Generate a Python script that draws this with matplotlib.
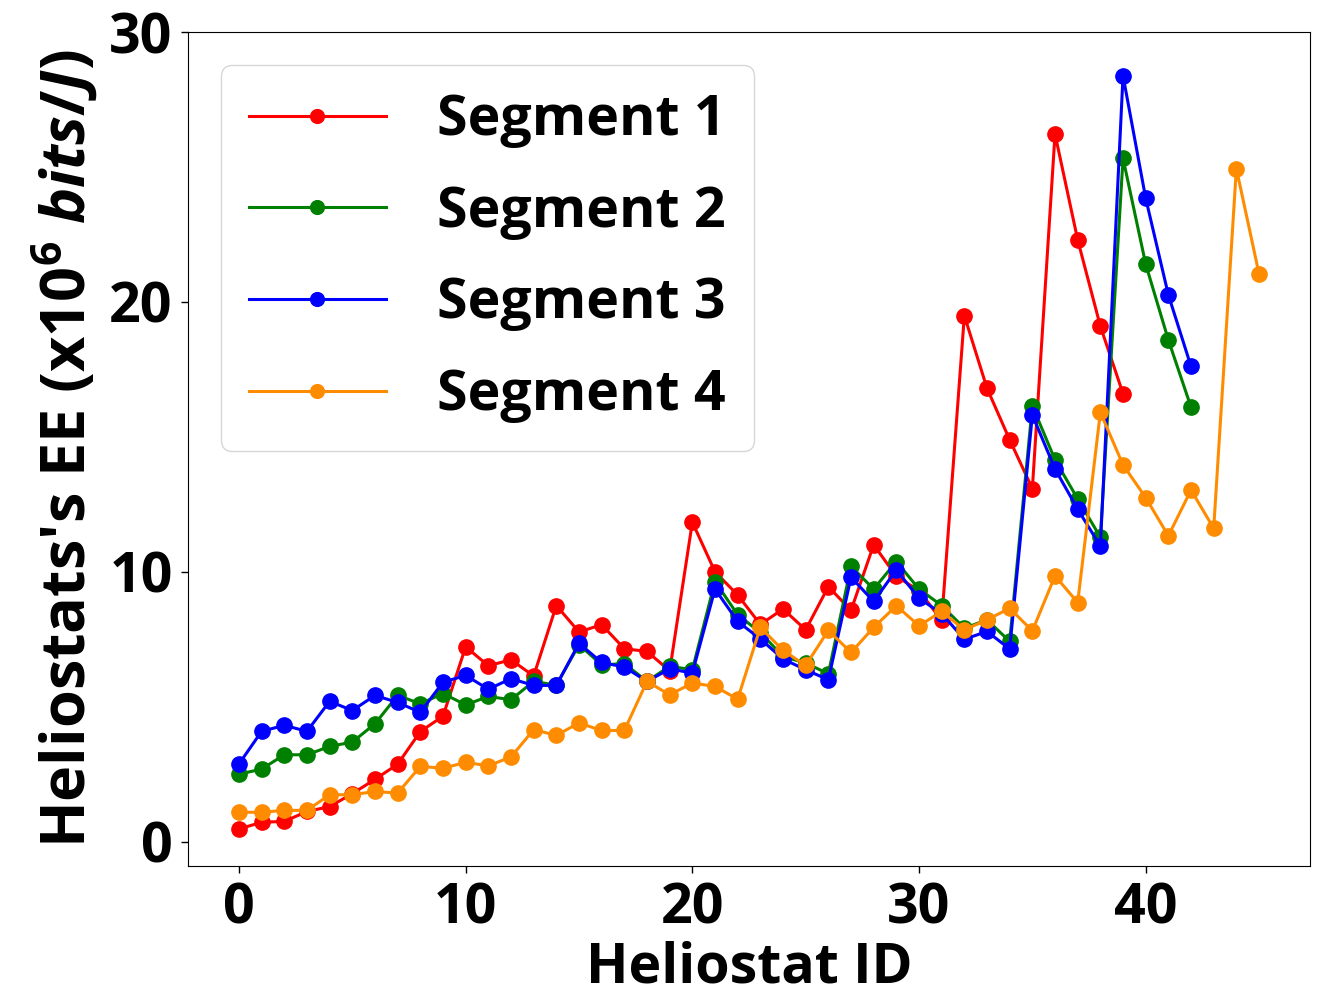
import matplotlib
matplotlib.use("Agg")
import matplotlib.pyplot as plt

# ---- data ----
seg1 = [0.47, 0.72, 0.75, 1.12, 1.30, 1.78, 2.31, 2.87, 4.08, 4.65,
        7.22, 6.52, 6.74, 6.14, 8.75, 7.77, 8.04, 7.15, 7.05, 6.33,
        11.84, 10.0, 9.14, 8.05, 8.62, 7.85, 9.45, 8.57, 11.0, 9.83,
        9.3, 8.2, 19.49, 16.8, 14.89, 13.08, 26.22, 22.3, 19.1, 16.6]
seg2 = [2.5, 2.69, 3.22, 3.22, 3.53, 3.69, 4.37, 5.42, 5.11, 5.49,
        5.07, 5.38, 5.26, 5.94, 5.8, 7.3, 6.55, 6.6, 5.94, 6.5,
        6.37, 9.64, 8.41, 7.75, 6.86, 6.62, 6.22, 10.2, 9.36, 10.38,
        9.36, 8.75, 7.91, 8.22, 7.42, 16.15, 14.15, 12.7, 11.28, 25.32,
        21.4, 18.59, 16.1]
seg3 = [2.88, 4.09, 4.31, 4.09, 5.2, 4.86, 5.42, 5.16, 4.79, 5.91,
        6.16, 5.65, 6.04, 5.79, 5.79, 7.35, 6.64, 6.47, 5.94, 6.4,
        6.25, 9.36, 8.16, 7.51, 6.77, 6.37, 6.0, 9.8, 8.9, 10.07,
        9.02, 8.45, 7.5, 7.79, 7.14, 15.81, 13.81, 12.32, 10.95, 28.38,
        23.84, 20.26, 17.61]
seg4 = [1.09, 1.09, 1.16, 1.16, 1.74, 1.74, 1.86, 1.80, 2.79, 2.72,
        2.94, 2.81, 3.14, 4.15, 3.94, 4.40, 4.12, 4.12, 5.94, 5.44,
        5.88, 5.75, 5.28, 7.94, 7.09, 6.53, 7.83, 7.01, 7.94, 8.74,
        8.0, 8.53, 7.85, 8.22, 8.65, 7.81, 9.85, 8.86, 15.91, 13.96,
        12.75, 11.33, 13.03, 11.61, 24.94, 21.04]
series = [seg1, seg2, seg3, seg4]
labels = ["Segment 1", "Segment 2", "Segment 3", "Segment 4"]
colors = ["red", "green", "blue", "darkorange"]
xticks = [0, 10, 20, 30, 40]
yticks = [0, 10, 20, 30]

plt.rcParams['font.family'] = ['Open Sans', 'DejaVu Sans']
plt.rcParams['font.weight'] = 'bold'
plt.rcParams['mathtext.fontset'] = 'custom'
plt.rcParams['mathtext.rm'] = 'Open Sans:bold'
plt.rcParams['mathtext.bf'] = 'Open Sans:bold'
plt.rcParams['mathtext.it'] = 'Open Sans:italic:bold'

fig = plt.figure(figsize=(13.21, 9.98), dpi=100)
ax = fig.add_axes([0.1423, 0.1323, 0.8494, 0.8356])

for vals, lab, c in zip(series, labels, colors):
    ax.plot(range(len(vals)), vals, '-o', color=c, label=lab,
            linewidth=2.2, markersize=11)

ax.set_xlim(-2.25, 47.25)
ax.set_ylim(-0.9, 30)
ax.set_xticks(xticks)
ax.set_yticks(yticks)
ax.tick_params(axis='both', labelsize=40, length=5, width=1, pad=6)
for t in ax.get_xticklabels() + ax.get_yticklabels():
    t.set_fontweight('bold')

ax.set_xlabel("Heliostat ID", fontsize=40, fontweight='bold', labelpad=3)
ax.set_ylabel(r"Heliostats's EE (x10$^{6}$ $\mathit{bits/J}$)",
              fontsize=44, fontweight='bold', labelpad=6)

leg = ax.legend(loc='upper left', fontsize=40, borderaxespad=0.6,
                handlelength=2.46, handletextpad=0.93, labelspacing=0.66,
                borderpad=0.5, markerscale=0.9)
for t in leg.get_texts():
    t.set_fontweight('bold')

fig.savefig("out.png", dpi=100)
